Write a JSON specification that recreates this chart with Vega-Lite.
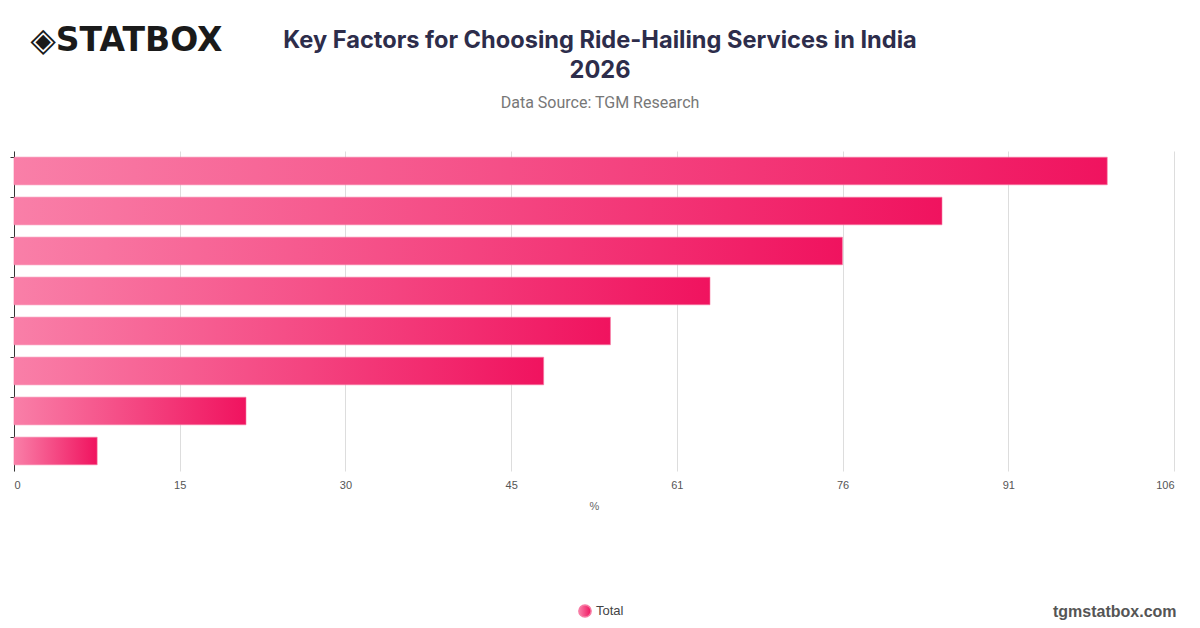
{
  "$schema": "https://vega.github.io/schema/vega-lite/v6.json",
  "width": 1160,
  "height": 320,
  "autosize": "none",
  "padding": {"left": 14, "top": 151, "right": 26, "bottom": 157},
  "background": "white",
  "title": {
    "text": ["Key Factors for Choosing Ride-Hailing Services in India", "2026"],
    "subtitle": "Data Source: TGM Research",
    "anchor": "middle",
    "frame": "group",
    "dx": 6,
    "offset": -87,
    "font": "Inter",
    "fontSize": 23.6,
    "fontWeight": "bold",
    "color": "#2d2d4b",
    "lineHeight": 30,
    "subtitleFont": "Roboto",
    "subtitleFontSize": 16,
    "subtitleColor": "#777777",
    "subtitlePadding": 12
  },
  "data": {
    "values": [
      {"factor": "Affordable fares", "pct": 99.9, "series": "Total"},
      {"factor": "Availability of rides", "pct": 84.8, "series": "Total"},
      {"factor": "Short waiting time", "pct": 75.7, "series": "Total"},
      {"factor": "Safety and security", "pct": 63.6, "series": "Total"},
      {"factor": "Ease of booking", "pct": 54.5, "series": "Total"},
      {"factor": "Driver behaviour", "pct": 48.4, "series": "Total"},
      {"factor": "Vehicle comfort", "pct": 21.2, "series": "Total"},
      {"factor": "Offers and discounts", "pct": 7.6, "series": "Total"}
    ]
  },
  "mark": {
    "type": "bar",
    "strokeWidth": 0.6,
    "fill": {
      "gradient": "linear",
      "x1": 0, "x2": 1, "y1": 0, "y2": 0,
      "stops": [
        {"offset": 0, "color": "#f97fa8"},
        {"offset": 1, "color": "#f0135f"}
      ]
    }
  },
  "encoding": {
    "y": {
      "field": "factor",
      "type": "nominal",
      "sort": null,
      "scale": {"paddingInner": 0.31, "paddingOuter": 0.155},
      "axis": {
        "labels": false,
        "bandPosition": 0,
        "title": "◈STATBOX",
        "titleAngle": 0,
        "titleAlign": "center",
        "titleBaseline": "middle",
        "titleX": 112,
        "titleY": -111,
        "titleFont": "DejaVu Sans",
        "titleFontSize": 33,
        "titleFontWeight": "bold",
        "titleColor": "#1a1a1a",
        "domainColor": "#333333",
        "tickColor": "#333333",
        "tickSize": 4,
        "grid": false
      }
    },
    "x": {
      "field": "pct",
      "type": "quantitative",
      "scale": {"domain": [0, 106], "nice": false},
      "axis": {
        "values": [0, 15.142857, 30.285714, 45.428571, 60.571429, 75.714286, 90.857143, 106],
        "format": ".0f",
        "title": "%",
        "titleFont": "Liberation Sans",
        "titleFontSize": 11,
        "titleFontWeight": "normal",
        "titleColor": "#666666",
        "titlePadding": 10,
        "labelFont": "Liberation Sans",
        "labelFontSize": 11,
        "labelColor": "#555555",
        "labelPadding": 8,
        "domain": false,
        "ticks": false,
        "grid": true,
        "gridColor": "#dddddd"
      }
    },
    "stroke": {
      "field": "series",
      "type": "nominal",
      "scale": {"range": ["#f77aa3"]},
      "legend": {
        "orient": "none",
        "legendX": 564,
        "legendY": 453,
        "direction": "horizontal",
        "symbolType": "circle",
        "symbolSize": 150,
        "symbolFillColor": "#f4437f",
        "symbolStrokeColor": "#f4437f",
        "labelFont": "Liberation Sans",
        "labelFontSize": 13,
        "labelColor": "#444444",
        "title": "tgmstatbox.com",
        "titleOrient": "right",
        "titlePadding": 430,
        "titleFont": "Liberation Sans",
        "titleFontSize": 16,
        "titleFontWeight": "bold",
        "titleColor": "#555555",
        "titleBaseline": "middle"
      }
    }
  },
  "config": {"view": {"stroke": null}}
}
